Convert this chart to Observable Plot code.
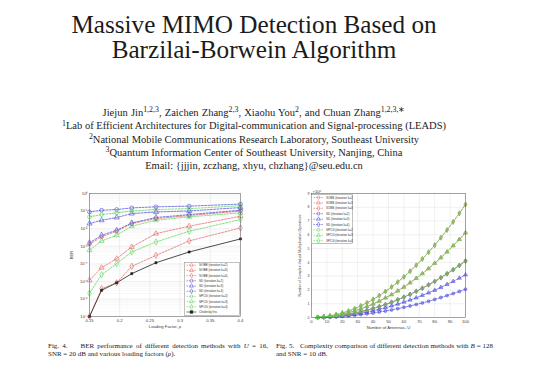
<!DOCTYPE html>
<html>
<head>
<meta charset="utf-8">
<script src="https://cdn.jsdelivr.net/npm/d3@7"></script>
<script src="https://cdn.jsdelivr.net/npm/@observablehq/plot@0.6"></script>
<style>
html,body{margin:0;padding:0;background:#fff;}
body{width:540px;height:383px;position:relative;overflow:hidden;font-family:"Liberation Serif","Times New Roman",serif;color:#1b1b1b;}
.abs{position:absolute;}
#title{left:0;top:12px;width:508px;text-align:center;font-size:25.2px;line-height:25px;white-space:nowrap;}
#authors{left:0;top:106px;width:508px;text-align:center;font-size:10.5px;line-height:13.3px;white-space:nowrap;}
sup{font-size:75%;line-height:0;position:relative;top:-0.45em;vertical-align:baseline;}
#authors .first{word-spacing:0.6px;}
.cap{font-size:7px;line-height:8px;}
.cap .l1{text-align:justify;text-align-last:justify;white-space:nowrap;}
#cap4{left:48px;top:341.6px;width:220px;}
#cap5{left:276px;top:341.6px;width:217px;}
#chart1{left:40px;top:180px;}
#chart2{left:290px;top:180px;}
.legend{position:absolute;}
</style>
</head>
<body>
<div id="title" class="abs">Massive MIMO Detection Based on<br>Barzilai-Borwein Algorithm</div>
<div id="authors" class="abs"><span class="first">Jiejun Jin<sup>1,2,3</sup>, Zaichen Zhang<sup>2,3</sup>, Xiaohu You<sup>2</sup>, and Chuan Zhang<sup>1,2,3,∗</sup></span><br><sup>1</sup>Lab of Efficient Architectures for Digital-communication and Signal-processing (LEADS)<br><sup>2</sup>National Mobile Communications Research Laboratory, Southeast University<br><sup>3</sup>Quantum Information Center of Southeast University, Nanjing, China<br>Email: {jjjin, zczhang, xhyu, chzhang}@seu.edu.cn</div>
<div id="chart1" class="abs"></div>
<div id="chart2" class="abs"></div>
<div id="cap4" class="abs cap"><div class="l1">Fig. 4.&nbsp;&nbsp;&nbsp; BER performance of different detection methods with <i>U</i> = 16,</div><div>SNR = 20 dB and various loading factors (<i>ρ</i>).</div></div>
<div id="cap5" class="abs cap"><div class="l1">Fig. 5.&nbsp;&nbsp; Complexity comparison of different detection methods with <i>B</i> = 128</div><div>and SNR = 10 dB.</div></div>
<script>
// ---------- Fig. 4 data (BER vs loading factor) ----------
const loadingFactor = [0.15, 0.17, 0.195, 0.22, 0.26, 0.315, 0.4];
const berSOBB2 = [1.29e-3, 3.4e-3, 7.1e-3, 1.95e-2, 3.7e-2, 5.6e-2, 1.0e-1];
const berSOBB3 = [1.15e-5, 6.0e-5, 1.95e-4, 9.1e-4, 5.2e-3, 1.38e-2, 5.1e-2];
const berSOBB4 = [1.0e-7, 3.8e-6, 8.3e-6, 7.2e-5, 3.0e-4, 2.0e-3, 1.1e-2];
const berSD2 = [8.9e-2, 1.12e-1, 1.23e-1, 1.51e-1, 1.74e-1, 1.91e-1, 2.5e-1];
const berSD3 = [1.95e-2, 3.0e-2, 4.3e-2, 7.2e-2, 8.9e-2, 1.02e-1, 1.58e-1];
const berSD4 = [1.55e-3, 4.2e-3, 8.1e-3, 2.1e-2, 4.3e-2, 6.3e-2, 1.12e-1];
const berSPCG2 = [4.7e-2, 6.3e-2, 7.9e-2, 1.02e-1, 1.23e-1, 1.38e-1, 2.0e-1];
const berSPCG3 = [5.9e-4, 2.0e-3, 4.2e-3, 1.38e-2, 3.0e-2, 4.7e-2, 7.9e-2];
const berSPCG4 = [2.1e-6, 2.4e-5, 1.02e-4, 4.7e-4, 1.74e-3, 7.1e-3, 3.3e-2];
const berCholesky = [1.0e-7, 3.1e-6, 8.3e-6, 2.75e-5, 1.15e-4, 4.7e-4, 2.6e-3];
const berSeries = ["SOBB (iteration k=2)", "SOBB (iteration k=3)", "SOBB (iteration k=4)",
  "SD (iteration k=2)", "SD (iteration k=3)", "SD (iteration k=4)",
  "SPCG (iteration k=2)", "SPCG (iteration k=3)", "SPCG (iteration k=4)", "Cholesky Inv."];
const berValues = [berSOBB2, berSOBB3, berSOBB4, berSD2, berSD3, berSD4, berSPCG2, berSPCG3, berSPCG4, berCholesky];
const berTicksY = [1e-7, 1e-6, 1e-5, 1e-4, 1e-3, 1e-2, 1e-1, 1];
const berTicksX = [0.15, 0.2, 0.25, 0.3, 0.35, 0.4];

// ---------- Fig. 5 data (complex multiplications, x10^6, vs antennas) ----------
const antennas = [4, 8, 12, 16, 20, 24, 28, 32, 36, 40, 44, 48, 52, 56, 60, 64, 68, 72, 76, 80, 84, 88, 92, 96, 100];
const cmulSOBB2 = [0.01,0.03,0.06,0.10,0.16,0.24,0.32,0.42,0.53,0.66,0.79,0.94,1.11,1.29,1.48,1.68,1.90,2.13,2.37,2.62,2.89,3.18,3.47,3.78,4.10];
const cmulSOBB3 = [0.01,0.04,0.09,0.16,0.25,0.35,0.48,0.63,0.80,0.98,1.19,1.42,1.66,1.93,2.21,2.52,2.84,3.19,3.55,3.94,4.34,4.76,5.21,5.67,6.15];
const cmulSOBB4 = [0.01,0.05,0.12,0.21,0.33,0.47,0.64,0.84,1.06,1.31,1.59,1.89,2.22,2.57,2.95,3.36,3.79,4.25,4.74,5.25,5.79,6.35,6.94,7.56,8.20];
const cmulSD2 = [0.00,0.01,0.03,0.05,0.08,0.12,0.16,0.21,0.27,0.33,0.40,0.47,0.55,0.64,0.74,0.84,0.95,1.06,1.18,1.31,1.45,1.59,1.74,1.89,2.05];
const cmulSD3 = [0.00,0.02,0.04,0.08,0.12,0.18,0.24,0.32,0.40,0.50,0.60,0.71,0.84,0.97,1.12,1.27,1.43,1.61,1.79,1.98,2.19,2.40,2.62,2.86,3.10];
const cmulSD4 = [0.01,0.03,0.06,0.10,0.16,0.24,0.32,0.42,0.53,0.66,0.79,0.94,1.11,1.29,1.48,1.68,1.90,2.13,2.37,2.62,2.89,3.18,3.47,3.78,4.10];
const cmulSPCG2 = [0.01,0.03,0.06,0.10,0.16,0.24,0.32,0.42,0.53,0.66,0.79,0.94,1.11,1.29,1.48,1.68,1.90,2.13,2.37,2.62,2.89,3.18,3.47,3.78,4.10];
const cmulSPCG3 = [0.01,0.04,0.09,0.16,0.25,0.35,0.48,0.63,0.80,0.98,1.19,1.42,1.66,1.93,2.21,2.52,2.84,3.19,3.55,3.94,4.34,4.76,5.21,5.67,6.15];
const cmulSPCG4 = [0.01,0.05,0.12,0.21,0.33,0.47,0.64,0.84,1.06,1.31,1.59,1.89,2.22,2.57,2.95,3.36,3.79,4.25,4.74,5.25,5.79,6.35,6.94,7.56,8.20];
const cmulSeries = ["SOBB (iteration k=2)", "SOBB (iteration k=3)", "SOBB (iteration k=4)",
  "SD (iteration k=2)", "SD (iteration k=3)", "SD (iteration k=4)",
  "SPCG (iteration k=2)", "SPCG (iteration k=3)", "SPCG (iteration k=4)"];
const cmulValues = [cmulSOBB2, cmulSOBB3, cmulSOBB4, cmulSD2, cmulSD3, cmulSD4, cmulSPCG2, cmulSPCG3, cmulSPCG4];
const cmulTicksY = [0,1,2,3,4,5,6,7,8,9];
const cmulTicksX = [0,10,20,30,40,50,60,70,80,90,100];

// ---------- styling ----------
const RED = "#e2605c", BLUE = "#4646d8", GREEN = "#55d455", BLACK = "#1e1e1e";
const methodColors = [RED, RED, RED, BLUE, BLUE, BLUE, GREEN, GREEN, GREEN, BLACK];
const methodSymbols = ["circle", "triangle", "diamond", "circle", "triangle", "diamond", "circle", "triangle", "diamond", "square"];
const sup = {"0":"⁰","1":"¹","2":"²","3":"³","4":"⁴","5":"⁵","6":"⁶","7":"⁷","8":"⁸","9":"⁹","-":"⁻"};
const fmtPow = d => "10" + String(Math.round(Math.log10(d))).split("").map(c => sup[c]).join("");
const chartStyle = {fontSize:"4.2px", fontFamily:"Liberation Sans, Arial, sans-serif", color:"#404040", background:"transparent", overflow:"visible"};

const berTable = [];
berSeries.forEach((s, i) => berValues[i].forEach((v, j) => berTable.push({series: s, rho: loadingFactor[j], ber: v})));
const berDashed = berTable.filter(d => d.series !== "Cholesky Inv.");
const berChol = berTable.filter(d => d.series === "Cholesky Inv.");
const minorTicks = [];
for (let e = -7; e < 0; e++) for (let m = 2; m <= 9; m++) minorTicks.push(m * Math.pow(10, e));

const chart1 = Plot.plot({
  width: 210, height: 160,
  marginLeft: 49, marginRight: 10, marginTop: 13, marginBottom: 24,
  style: chartStyle,
  x: {domain: [0.15, 0.4]},
  y: {type: "log", domain: [1e-7, 1]},
  color: {domain: berSeries, range: methodColors},
  symbol: {domain: berSeries, range: methodSymbols},
  marks: [
    Plot.gridY(minorTicks, {stroke: "#000", strokeOpacity: 0.05, strokeWidth: 0.5}),
    Plot.gridY(berTicksY, {stroke: "#000", strokeOpacity: 0.12, strokeWidth: 0.5}),
    Plot.gridX(berTicksX, {stroke: "#000", strokeOpacity: 0.12, strokeWidth: 0.5}),
    Plot.axisY(berTicksY, {tickSize: 0, tickPadding: 2, tickFormat: fmtPow, label: "BER", labelAnchor: "center", labelOffset: 19, labelArrow: "none"}),
    Plot.axisX(berTicksX, {tickSize: 0, tickPadding: 2.5, tickFormat: d => String(d), label: "Loading Factor, ρ", labelAnchor: "center", labelOffset: 11, labelArrow: "none"}),
    Plot.line(berDashed, {x: "rho", y: "ber", z: "series", stroke: "series", strokeWidth: 0.7, strokeDasharray: "2,1.3"}),
    Plot.dot(berDashed, {x: "rho", y: "ber", symbol: "series", stroke: "series", fill: "none", r: 1.9, strokeWidth: 0.6}),
    Plot.line(berChol, {x: "rho", y: "ber", stroke: BLACK, strokeWidth: 0.8}),
    Plot.dot(berChol, {x: "rho", y: "ber", symbol: "square", fill: BLACK, stroke: BLACK, r: 1.2, strokeWidth: 0.5}),
    Plot.frame({stroke: "#555", strokeWidth: 0.5})
  ]
});
document.getElementById("chart1").appendChild(chart1);

const cmulTable = [];
cmulSeries.forEach((s, i) => cmulValues[i].forEach((v, j) => cmulTable.push({series: s, U: antennas[j], ops: v})));
// draw SD first, then SOBB, then SPCG on top
const drawOrder = ["SD", "SOBB", "SPCG"];
const cmulSorted = drawOrder.flatMap(m => cmulTable.filter(d => d.series.startsWith(m + " ")));

const chart2 = Plot.plot({
  width: 200, height: 160,
  marginLeft: 21, marginRight: 25, marginTop: 13, marginBottom: 23,
  style: chartStyle,
  x: {domain: [0, 100]},
  y: {domain: [0, 9]},
  color: {domain: cmulSeries, range: methodColors.slice(0, 9)},
  symbol: {domain: cmulSeries, range: methodSymbols.slice(0, 9)},
  marks: [
    Plot.gridY(cmulTicksY, {stroke: "#000", strokeOpacity: 0.12, strokeWidth: 0.5}),
    Plot.gridX(cmulTicksX, {stroke: "#000", strokeOpacity: 0.12, strokeWidth: 0.5}),
    Plot.axisY(cmulTicksY, {tickSize: 0, tickPadding: 2, label: "Number of Complex-Valued Multiplication Operations", labelAnchor: "center", labelOffset: 13, labelArrow: "none", fontSize: "3.5px"}),
    Plot.axisX(cmulTicksX, {tickSize: 0, tickPadding: 2.5, label: "Number of Antennas, U", labelAnchor: "center", labelOffset: 11, labelArrow: "none"}),
    Plot.text(["×10⁶"], {frameAnchor: "top-left", dy: -3.5, dx: 1, textAnchor: "start"}),
    Plot.line(cmulSorted, {x: "U", y: "ops", z: "series", stroke: "series", strokeWidth: 0.7, strokeDasharray: "2,1.3"}),
    Plot.dot(cmulSorted, {x: "U", y: "ops", symbol: "series", stroke: "series", fill: "series", fillOpacity: 0.45, r: 1.5, strokeWidth: 0.5}),
    Plot.frame({stroke: "#555", strokeWidth: 0.5})
  ]
});
document.getElementById("chart2").appendChild(chart2);

// ---------- legends ----------
const symbolMap = {circle: d3.symbolCircle, triangle: d3.symbolTriangle, diamond: d3.symbolDiamond, square: d3.symbolSquare};
function legend(left, top, width, height, names, colors, symbols, rowStart, rowStep, fontSize) {
  const svg = d3.select("body").append("svg")
    .attr("class", "legend").attr("width", width).attr("height", height)
    .style("left", left + "px").style("top", top + "px");
  svg.append("rect").attr("x", 0.25).attr("y", 0.25).attr("width", width - 0.5).attr("height", height - 0.5)
    .attr("fill", "#fff").attr("stroke", "#666").attr("stroke-width", 0.4);
  names.forEach((n, i) => {
    const y = rowStart + i * rowStep;
    const solid = n === "Cholesky Inv.";
    svg.append("line").attr("x1", 2.5).attr("x2", 12.5).attr("y1", y).attr("y2", y)
      .attr("stroke", colors[i]).attr("stroke-width", 0.6).attr("stroke-dasharray", solid ? null : "1.6,1");
    svg.append("path").attr("transform", `translate(7.5,${y})`)
      .attr("d", d3.symbol(symbolMap[symbols[i]], Math.PI * 1.5 * 1.5)())
      .attr("fill", solid ? colors[i] : "none").attr("stroke", colors[i]).attr("stroke-width", 0.5);
    svg.append("text").attr("x", 15).attr("y", y).attr("dy", "0.35em")
      .attr("font-family", "Liberation Sans, Arial, sans-serif").attr("font-size", fontSize)
      .attr("fill", "#333").text(n);
  });
}
legend(183.5, 262, 56, 54, berSeries, methodColors, methodSymbols, 3.2, 5.2, 3.1);
legend(311, 193.5, 42, 50, cmulSeries, methodColors.slice(0, 9), methodSymbols.slice(0, 9), 3.5, 5.4, 3.0);
</script>
</body>
</html>
